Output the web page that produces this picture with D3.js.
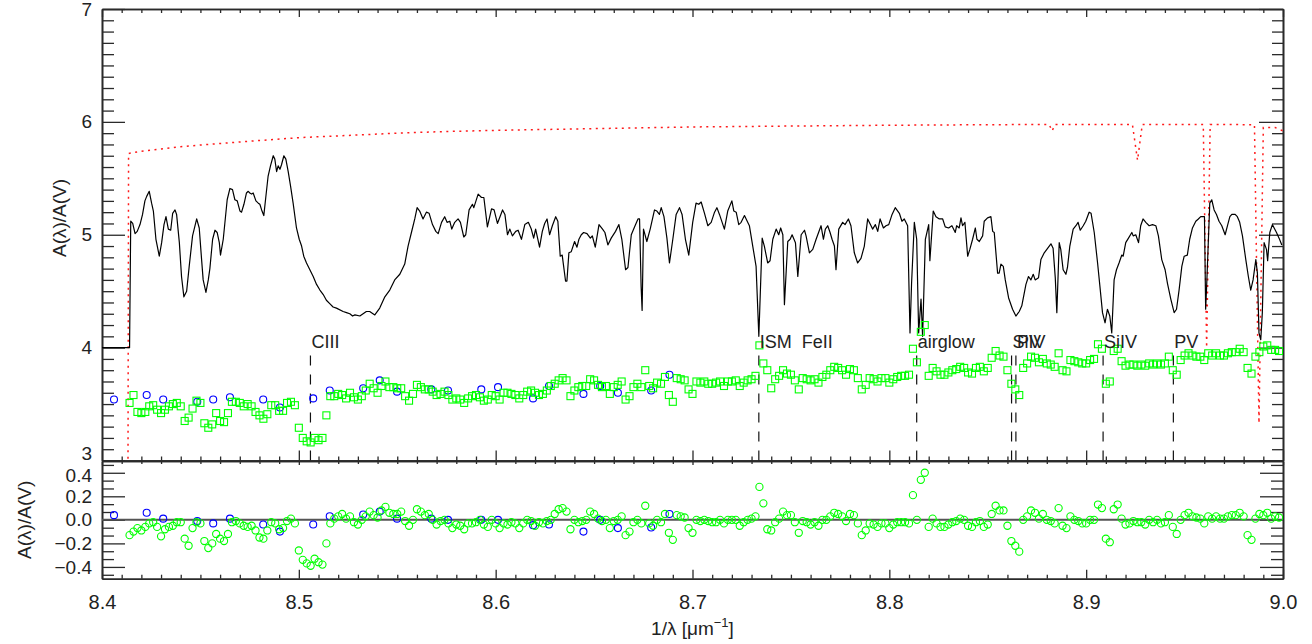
<!DOCTYPE html>
<html>
<head>
<meta charset="utf-8">
<script src="https://cdn.jsdelivr.net/npm/d3@7"></script>
<style>
  body { margin: 0; background: #fff; }
  svg text { font-family: "Liberation Sans", Arial, sans-serif; fill: #222; }
</style>
</head>
<body>
<div id="chart"></div>
<script>
// ---- data -------------------------------------------------------------

// extinction curve derived from the model spectrum (black line)
const spectrum = [
  [8.4000,4.00],[8.4140,4.00],[8.4146,5.12],[8.4156,5.10],[8.4168,5.01],[8.4179,5.03],[8.4193,5.09],[8.4206,5.18],[8.4218,5.30],[8.4227,5.34],
  [8.4240,5.385],[8.4252,5.28],[8.4261,5.21],[8.4274,4.96],[8.4291,4.81],[8.4303,4.93],[8.4315,5.09],[8.4325,5.16],[8.4337,5.05],[8.4349,5.04],
  [8.4359,5.19],[8.4371,5.22],[8.4379,5.18],[8.4393,4.93],[8.4404,4.63],[8.4416,4.45],[8.4430,4.50],[8.4443,4.72],[8.4460,4.99],[8.4481,5.14],
  [8.4494,5.06],[8.4506,4.78],[8.4514,4.60],[8.4528,4.49],[8.4540,4.60],[8.4548,4.70],[8.4562,4.96],[8.4574,5.04],[8.4585,5.02],[8.4596,4.93],
  [8.4602,4.82],[8.4616,4.96],[8.4624,5.10],[8.4636,5.31],[8.4650,5.41],[8.4663,5.40],[8.4675,5.31],[8.4687,5.30],[8.4701,5.21],[8.4709,5.20],
  [8.4721,5.27],[8.4734,5.37],[8.4743,5.385],[8.4751,5.37],[8.4760,5.36],[8.4768,5.37],[8.4782,5.30],[8.4794,5.28],[8.4802,5.27],[8.4811,5.22],
  [8.4822,5.17],[8.4832,5.33],[8.4844,5.52],[8.4856,5.61],[8.4870,5.70],[8.4878,5.67],[8.4887,5.56],[8.4895,5.61],[8.4904,5.58],[8.4912,5.62],
  [8.4924,5.70],[8.4934,5.67],[8.4946,5.56],[8.4958,5.43],[8.4971,5.28],[8.4988,5.06],[8.5002,4.96],[8.5014,4.90],[8.5025,4.81],[8.5039,4.75],
  [8.5056,4.69],[8.5073,4.63],[8.5090,4.56],[8.5107,4.51],[8.5124,4.47],[8.5140,4.42],[8.5157,4.39],[8.5174,4.36],[8.5191,4.35],[8.5225,4.32],
  [8.5242,4.31],[8.5259,4.30],[8.5273,4.28],[8.5285,4.29],[8.5310,4.28],[8.5343,4.32],[8.5360,4.32],[8.5386,4.29],[8.5411,4.35],[8.5437,4.45],
  [8.5462,4.51],[8.5487,4.60],[8.5513,4.65],[8.5538,4.74],[8.5555,4.90],[8.5572,5.02],[8.5589,5.14],[8.5601,5.24],[8.5614,5.21],[8.5631,5.14],
  [8.5648,5.20],[8.5662,5.19],[8.5679,5.09],[8.5696,5.03],[8.5708,5.01],[8.5725,5.11],[8.5741,5.16],[8.5753,5.11],[8.5767,5.12],[8.5777,5.05],
  [8.5792,5.11],[8.5809,5.14],[8.5821,5.11],[8.5838,4.98],[8.5848,5.00],[8.5865,5.22],[8.5882,5.27],[8.5889,5.24],[8.5911,5.36],[8.5928,5.33],
  [8.5940,5.33],[8.5958,5.07],[8.5979,5.23],[8.5992,5.22],[8.6009,5.10],[8.6035,5.22],[8.6047,5.18],[8.6060,5.00],[8.6072,5.05],[8.6085,4.99],
  [8.6102,5.03],[8.6114,5.04],[8.6131,4.96],[8.6148,5.09],[8.6166,5.11],[8.6181,5.05],[8.6193,4.97],[8.6203,5.05],[8.6223,4.89],[8.6237,5.03],
  [8.6249,5.10],[8.6261,5.14],[8.6274,5.00],[8.6288,5.08],[8.6305,5.16],[8.6316,5.12],[8.6328,4.81],[8.6338,4.82],[8.6355,4.59],[8.6362,4.59],
  [8.6372,4.84],[8.6384,4.85],[8.6401,4.94],[8.6413,4.89],[8.6423,4.96],[8.6435,5.00],[8.6447,5.02],[8.6464,5.01],[8.6481,4.97],[8.6491,4.99],
  [8.6506,4.89],[8.6525,5.09],[8.6543,5.05],[8.6555,5.02],[8.6570,4.91],[8.6587,4.97],[8.6609,5.03],[8.6626,5.09],[8.6641,4.96],[8.6660,4.69],
  [8.6672,4.71],[8.6689,5.00],[8.6706,5.07],[8.6723,5.14],[8.6731,5.14],[8.6739,4.54],[8.6744,4.33],[8.6751,5.05],[8.6768,4.94],[8.6785,5.05],
  [8.6807,5.22],[8.6819,5.21],[8.6832,5.18],[8.6841,5.24],[8.6855,5.16],[8.6870,4.97],[8.6883,4.75],[8.6900,4.96],[8.6917,5.18],[8.6934,5.24],
  [8.6947,5.18],[8.6964,4.96],[8.6981,4.82],[8.7001,5.11],[8.7018,5.28],[8.7032,5.27],[8.7044,5.29],[8.7061,5.19],[8.7078,5.08],[8.7095,5.11],
  [8.7112,5.20],[8.7124,5.24],[8.7137,5.18],[8.7162,5.05],[8.7179,5.21],[8.7200,5.30],[8.7210,5.21],[8.7222,5.20],[8.7235,5.09],[8.7247,5.11],
  [8.7264,5.17],[8.7289,5.08],[8.7306,4.90],[8.7323,4.72],[8.7337,4.10],[8.7354,4.97],[8.7365,4.90],[8.7382,4.75],[8.7394,4.77],[8.7408,4.96],
  [8.7425,5.05],[8.7438,5.00],[8.7448,5.06],[8.7459,5.00],[8.7467,4.38],[8.7484,4.94],[8.7496,4.96],[8.7506,5.00],[8.7523,4.93],[8.7535,4.63],
  [8.7552,5.00],[8.7569,5.04],[8.7577,4.99],[8.7594,4.84],[8.7611,4.87],[8.7628,4.96],[8.7653,5.08],[8.7665,4.96],[8.7675,5.05],[8.7687,5.08],
  [8.7699,5.02],[8.7709,4.96],[8.7721,4.90],[8.7729,4.69],[8.7743,5.05],[8.7763,5.11],[8.7775,5.09],[8.7792,5.14],[8.7805,5.08],[8.7822,4.84],
  [8.7839,4.75],[8.7856,4.79],[8.7873,4.90],[8.7890,5.14],[8.7907,5.08],[8.7915,5.05],[8.7929,5.09],[8.7941,5.03],[8.7953,5.14],[8.7970,5.06],
  [8.7983,5.08],[8.7997,5.09],[8.8014,5.18],[8.8030,5.24],[8.8051,5.19],[8.8064,5.12],[8.8076,5.14],[8.8093,5.08],[8.8105,4.13],[8.8113,4.57],
  [8.8127,5.11],[8.8139,4.96],[8.8149,4.13],[8.8161,4.43],[8.8169,4.10],[8.8183,4.96],[8.8200,5.09],[8.8206,4.77],[8.8223,5.21],[8.8237,5.16],
  [8.8254,5.14],[8.8271,5.14],[8.8284,5.07],[8.8301,5.06],[8.8318,5.08],[8.8335,5.02],[8.8342,5.08],[8.8355,5.06],[8.8364,5.15],[8.8372,5.08],
  [8.8384,5.11],[8.8398,4.81],[8.8409,4.87],[8.8423,4.96],[8.8437,5.06],[8.8445,4.96],[8.8457,4.94],[8.8474,4.99],[8.8482,5.12],[8.8499,5.15],
  [8.8516,5.16],[8.8525,5.03],[8.8533,5.02],[8.8550,4.66],[8.8558,4.66],[8.8567,4.74],[8.8579,4.72],[8.8589,4.60],[8.8606,4.44],[8.8626,4.34],
  [8.8643,4.28],[8.8660,4.32],[8.8673,4.37],[8.8694,4.56],[8.8707,4.63],[8.8719,4.60],[8.8731,4.65],[8.8741,4.60],[8.8758,4.62],[8.8770,4.78],
  [8.8787,4.84],[8.8804,4.88],[8.8821,4.92],[8.8832,4.88],[8.8843,4.62],[8.8851,4.31],[8.8863,4.93],[8.8871,4.87],[8.8883,4.69],[8.8897,4.65],
  [8.8905,4.71],[8.8917,4.90],[8.8934,5.05],[8.8948,5.08],[8.8959,5.11],[8.8970,5.04],[8.8985,5.08],[8.8998,5.12],[8.9015,5.20],[8.9025,5.19],
  [8.9041,5.02],[8.9058,4.75],[8.9070,4.54],[8.9083,4.31],[8.9096,4.22],[8.9108,4.34],[8.9120,4.28],[8.9130,4.13],[8.9142,4.60],[8.9154,4.69],
  [8.9167,4.75],[8.9181,4.82],[8.9188,4.81],[8.9201,4.93],[8.9215,4.97],[8.9232,5.02],[8.9239,4.99],[8.9252,5.00],[8.9266,4.93],[8.9277,5.08],
  [8.9289,5.14],[8.9303,5.11],[8.9320,5.08],[8.9337,5.09],[8.9354,5.08],[8.9367,4.99],[8.9384,4.78],[8.9401,4.69],[8.9413,4.57],[8.9430,4.43],
  [8.9447,4.31],[8.9459,4.34],[8.9472,4.51],[8.9486,4.72],[8.9498,4.81],[8.9514,4.82],[8.9526,4.96],[8.9540,5.06],[8.9557,5.12],[8.9570,5.14],
  [8.9582,5.16],[8.9594,5.16],[8.9601,5.16],[8.9607,4.34],[8.9612,4.54],[8.9628,5.28],[8.9638,5.31],[8.9650,5.22],[8.9662,5.18],[8.9675,5.12],
  [8.9689,5.08],[8.9706,5.00],[8.9718,5.08],[8.9730,5.16],[8.9740,5.18],[8.9757,5.18],[8.9768,5.16],[8.9780,5.11],[8.9794,4.99],[8.9811,4.78],
  [8.9824,4.63],[8.9836,4.51],[8.9848,4.60],[8.9862,4.78],[8.9870,4.66],[8.9878,4.13],[8.9887,4.07],[8.9895,4.31],[8.9904,4.93],[8.9916,4.87],
  [8.9922,4.77],[8.9933,5.02],[8.9946,5.09],[8.9955,5.06],[8.9967,5.02],[8.9980,4.97],[8.9994,4.91]
];

// model curve (red dotted)
const model = [
  [8.4132,2.90],[8.4135,5.72],[8.420,5.74],[8.430,5.76],[8.440,5.78],[8.450,5.795],[8.465,5.815],[8.480,5.835],[8.500,5.86],[8.525,5.88],
  [8.550,5.90],[8.575,5.915],[8.600,5.925],[8.650,5.94],[8.700,5.955],[8.750,5.963],[8.800,5.970],[8.850,5.975],[8.8812,5.977],[8.8827,5.92],
  [8.8842,5.977],[8.9235,5.977],[8.9261,5.66],[8.9285,5.977],[8.9595,5.977],[8.9612,4.00],[8.9630,5.977],[8.9855,5.975],[8.9878,3.33],[8.9900,5.95],
  [8.9960,5.95],[9.0000,5.92]
];

// binned measurements: wavelength grid, A(l)/A(V) (green squares) and residuals (green circles)
const binWave = [
  8.414,8.416,8.418,8.420,8.422,8.424,8.426,8.428,8.430,8.432,
  8.434,8.436,8.438,8.440,8.442,8.444,8.446,8.448,8.450,8.452,
  8.454,8.456,8.458,8.460,8.462,8.464,8.466,8.468,8.470,8.472,
  8.474,8.476,8.478,8.480,8.482,8.484,8.486,8.488,8.490,8.492,
  8.494,8.496,8.498,8.500,8.502,8.504,8.506,8.508,8.510,8.512,
  8.514,8.516,8.518,8.520,8.522,8.524,8.526,8.528,8.530,8.532,
  8.534,8.536,8.538,8.540,8.542,8.544,8.546,8.548,8.550,8.552,
  8.554,8.556,8.558,8.560,8.562,8.564,8.566,8.568,8.570,8.572,
  8.574,8.576,8.578,8.580,8.582,8.584,8.586,8.588,8.590,8.592,
  8.594,8.596,8.598,8.600,8.602,8.604,8.606,8.608,8.610,8.612,
  8.614,8.616,8.618,8.620,8.622,8.624,8.626,8.628,8.630,8.632,
  8.634,8.636,8.638,8.640,8.642,8.644,8.646,8.648,8.650,8.652,
  8.654,8.656,8.658,8.660,8.662,8.664,8.666,8.668,8.670,8.672,
  8.674,8.676,8.678,8.680,8.682,8.684,8.686,8.688,8.690,8.692,
  8.694,8.696,8.698,8.700,8.702,8.704,8.706,8.708,8.710,8.712,
  8.714,8.716,8.718,8.720,8.722,8.724,8.726,8.728,8.730,8.732,
  8.734,8.736,8.738,8.740,8.742,8.744,8.746,8.748,8.750,8.752,
  8.754,8.756,8.758,8.760,8.762,8.764,8.766,8.768,8.770,8.772,
  8.774,8.776,8.778,8.780,8.782,8.784,8.786,8.788,8.790,8.792,
  8.794,8.796,8.798,8.800,8.802,8.804,8.806,8.808,8.810,8.812,
  8.814,8.816,8.818,8.820,8.822,8.824,8.826,8.828,8.830,8.832,
  8.834,8.836,8.838,8.840,8.842,8.844,8.846,8.848,8.850,8.852,
  8.854,8.856,8.858,8.860,8.862,8.864,8.866,8.868,8.870,8.872,
  8.874,8.876,8.878,8.880,8.882,8.884,8.886,8.888,8.890,8.892,
  8.894,8.896,8.898,8.900,8.902,8.904,8.906,8.908,8.910,8.912,
  8.914,8.916,8.918,8.920,8.922,8.924,8.926,8.928,8.930,8.932,
  8.934,8.936,8.938,8.940,8.942,8.944,8.946,8.948,8.950,8.952,
  8.954,8.956,8.958,8.960,8.962,8.964,8.966,8.968,8.970,8.972,
  8.974,8.976,8.978,8.980,8.982,8.984,8.986,8.988,8.990,8.992,
  8.994,8.996,8.998
];
const binExt = [
  3.51,3.58,3.43,3.42,3.43,3.48,3.49,3.45,3.42,3.45,
  3.48,3.50,3.51,3.48,3.35,3.38,3.46,3.53,3.51,3.33,
  3.29,3.32,3.42,3.35,3.34,3.42,3.52,3.52,3.51,3.48,
  3.50,3.48,3.43,3.40,3.37,3.41,3.49,3.49,3.44,3.44,
  3.51,3.52,3.49,3.29,3.20,3.17,3.16,3.20,3.18,3.20,
  3.40,3.57,3.57,3.59,3.58,3.55,3.60,3.56,3.54,3.57,
  3.62,3.68,3.64,3.60,3.66,3.70,3.65,3.65,3.64,3.64,
  3.57,3.53,3.59,3.67,3.65,3.63,3.63,3.61,3.58,3.59,
  3.61,3.58,3.54,3.55,3.54,3.51,3.55,3.57,3.58,3.56,
  3.53,3.54,3.58,3.57,3.54,3.60,3.60,3.59,3.58,3.55,
  3.58,3.61,3.62,3.60,3.58,3.59,3.62,3.66,3.68,3.71,
  3.73,3.71,3.57,3.62,3.65,3.66,3.66,3.72,3.71,3.67,
  3.65,3.66,3.59,3.65,3.67,3.70,3.54,3.57,3.65,3.68,
  3.65,3.80,3.66,3.64,3.69,3.68,3.74,3.58,3.52,3.73,
  3.72,3.71,3.63,3.59,3.70,3.69,3.70,3.68,3.68,3.69,
  3.70,3.66,3.70,3.70,3.71,3.66,3.69,3.71,3.72,3.75,
  4.02,3.86,3.80,3.64,3.72,3.75,3.80,3.77,3.76,3.71,
  3.63,3.73,3.72,3.71,3.72,3.69,3.74,3.76,3.80,3.83,
  3.82,3.80,3.76,3.81,3.80,3.73,3.63,3.67,3.73,3.72,
  3.70,3.73,3.73,3.69,3.72,3.74,3.75,3.75,3.76,3.99,
  3.87,4.14,4.20,3.75,3.82,3.79,3.76,3.76,3.78,3.80,
  3.81,3.83,3.82,3.78,3.77,3.82,3.83,3.79,3.82,3.91,
  3.97,3.93,3.92,3.80,3.68,3.63,3.58,3.82,3.86,3.92,
  3.91,3.87,3.90,3.86,3.85,3.83,3.95,3.80,3.79,3.89,
  3.88,3.87,3.86,3.86,3.89,3.90,4.03,3.99,3.68,3.70,
  3.97,3.99,3.88,3.84,3.85,3.85,3.84,3.85,3.84,3.86,
  3.85,3.86,3.85,3.86,3.92,3.80,3.76,3.89,3.93,3.95,
  3.93,3.92,3.92,3.89,3.95,3.93,3.95,3.93,3.93,3.95,
  3.96,3.96,3.99,3.96,3.82,3.77,3.92,3.96,4.01,4.02,
  3.98,3.98,3.97
];
const binResid = [
  -0.13,-0.10,-0.07,-0.09,-0.06,-0.03,-0.02,-0.06,-0.14,-0.08,
  -0.06,-0.05,-0.02,-0.02,-0.16,-0.22,-0.07,-0.02,-0.03,-0.18,
  -0.24,-0.20,-0.12,-0.16,-0.18,-0.12,-0.02,-0.01,-0.03,-0.05,
  -0.06,-0.05,-0.09,-0.15,-0.16,-0.09,-0.02,-0.03,-0.08,-0.07,
  -0.01,0.01,-0.03,-0.26,-0.34,-0.37,-0.39,-0.33,-0.36,-0.38,
  -0.20,-0.03,0.01,0.03,0.05,0.01,0.03,-0.02,-0.04,0.00,
  0.03,0.07,0.04,0.02,0.08,0.11,0.06,0.05,0.05,0.07,
  -0.01,-0.05,0.00,0.09,0.07,0.04,0.05,0.00,-0.04,-0.01,
  0.00,-0.03,-0.07,-0.04,-0.05,-0.08,-0.03,-0.03,-0.02,0.00,
  -0.04,-0.06,0.00,-0.03,-0.07,-0.03,-0.04,-0.02,-0.03,-0.07,
  -0.03,0.00,-0.01,-0.05,-0.02,-0.03,-0.01,0.00,0.05,0.09,
  0.10,0.07,-0.08,0.00,-0.02,-0.01,0.00,0.07,0.05,0.01,
  -0.01,0.00,-0.07,-0.01,0.00,0.03,-0.13,-0.10,-0.02,0.00,
  -0.03,0.12,-0.03,-0.05,0.00,-0.02,0.05,-0.11,-0.17,0.04,
  0.03,0.02,-0.07,-0.11,0.00,-0.01,0.00,-0.01,-0.02,-0.02,
  0.00,-0.03,0.00,0.00,0.00,-0.05,-0.02,0.00,0.01,0.03,
  0.28,0.14,-0.08,-0.09,-0.02,0.01,0.07,0.04,0.04,-0.02,
  -0.11,-0.01,-0.02,-0.04,-0.02,-0.05,0.00,0.00,0.03,0.06,
  0.05,0.03,-0.01,0.05,0.04,-0.03,-0.13,-0.09,-0.03,-0.04,
  -0.06,-0.03,-0.03,-0.07,-0.04,-0.02,-0.02,-0.02,-0.03,0.21,
  0.00,0.34,0.40,-0.06,0.01,-0.03,-0.06,-0.06,-0.04,-0.02,
  -0.01,0.01,0.00,-0.05,-0.06,-0.02,-0.01,-0.06,-0.04,0.05,
  0.12,0.08,0.08,-0.05,-0.18,-0.22,-0.27,0.00,0.03,0.08,
  0.06,0.01,0.05,0.00,-0.01,-0.03,0.10,-0.05,-0.07,0.03,
  0.00,-0.01,-0.03,-0.03,0.00,0.00,0.13,0.10,-0.16,-0.19,
  0.09,0.13,0.01,-0.04,-0.03,-0.01,-0.02,-0.02,-0.04,0.00,
  -0.02,0.00,-0.03,-0.02,0.04,-0.06,-0.12,0.00,0.04,0.06,
  0.03,0.02,0.01,-0.03,0.03,0.01,0.03,0.01,0.01,0.03,
  0.04,0.04,0.06,0.03,-0.13,-0.17,0.01,0.05,0.04,0.06,
  0.01,0.03,0.02
];

// second data set (blue circles)
const blueWave = [8.4061,8.4227,8.4311,8.4484,8.4565,8.4650,8.4819,8.4904,8.5073,8.5157,8.5327,8.5411,
                  8.5499,8.5673,8.5758,8.5927,8.6012,8.6190,8.6271,8.6446,8.6531,8.6621,8.6790,8.6883];
const blueExt = [3.54,3.58,3.54,3.52,3.54,3.56,3.54,3.47,3.55,3.62,3.64,3.71,
                 3.61,3.63,3.62,3.63,3.65,3.55,3.66,3.59,3.66,3.60,3.62,3.76];
const blueResid = [0.04,0.06,0.01,-0.01,-0.03,0.01,-0.04,-0.10,-0.04,0.03,0.045,0.07,
                   0.01,0.01,0.00,0.00,0.00,-0.045,-0.04,-0.10,0.00,-0.07,-0.065,0.05];

// line identifications
const lineNames = ["CIII", "ISM  FeII", "airglow", "SiIV", "PV", "SiIV", "PV"];
const lineWave = [8.5059, 8.7337, 8.8139, 8.8621, 8.8643, 8.9086, 8.9443];

const xMajor = [8.4, 8.5, 8.6, 8.7, 8.8, 8.9, 9.0];

// ---- layout -----------------------------------------------------------
const svgWidth = 1312, svgHeight = 644;
const plotLeft = 102, plotRight = 1283;
const topPanel = { top: 9, bottom: 460.5 };
const botPanel = { top: 461, bottom: 578.7 };
const fontStack = "Liberation Sans, Arial, sans-serif";

const svg = d3.select("#chart").append("svg")
  .attr("width", svgWidth)
  .attr("height", svgHeight);

const x = d3.scaleLinear().domain([8.4, 9.0]).range([plotLeft, plotRight]);
const yTop = d3.scaleLinear().domain([3, 7]).range([topPanel.bottom, topPanel.top]);
const yBot = d3.scaleLinear().domain([-0.5, 0.5]).range([botPanel.bottom, botPanel.top]);

const defs = svg.append("defs");
defs.append("clipPath").attr("id", "clipTop").append("rect")
  .attr("x", plotLeft).attr("y", topPanel.top)
  .attr("width", plotRight - plotLeft).attr("height", topPanel.bottom - topPanel.top);
defs.append("clipPath").attr("id", "clipBot").append("rect")
  .attr("x", plotLeft).attr("y", botPanel.top)
  .attr("width", plotRight - plotLeft).attr("height", botPanel.bottom - botPanel.top);

// tick positions
const xMinor = d3.range(841, 900).map((i) => i / 100).filter((v) => Math.round(v * 100) % 10 !== 0);
const yTopMinor = d3.range(30, 71).map((i) => i / 10).filter((v) => Math.round(v * 10) % 10 !== 0);
const yBotMajor = [-0.4, -0.2, 0, 0.2, 0.4];
const yBotMinor = d3.range(-7, 8).filter((i) => i % 3 !== 0).map((i) => (i * 0.2) / 3);

function styleAxis(g) {
  g.attr("color", "#2a2a2a").attr("font-size", 19).attr("font-family", fontStack);
  g.selectAll(".tick line").attr("stroke-width", 1.3);
  g.select(".domain").attr("stroke-width", 1.6);
}

function addAxis(axis, tx, ty) {
  return svg.append("g").attr("transform", `translate(${tx},${ty})`).call(axis).call(styleAxis);
}

// ---- top panel axes ----
const topLeftAxis = addAxis(d3.axisLeft(yTop).tickValues([3, 4, 5, 6, 7]).tickSize(-23).tickSizeOuter(0).tickPadding(10).tickFormat(d3.format("d")), plotLeft, 0);
// lift the lowest label so it clears the "0.4" of the lower panel
topLeftAxis.selectAll(".tick text").filter((d) => d === 3).attr("y", -7);
addAxis(d3.axisLeft(yTop).tickValues(yTopMinor).tickSize(-12).tickSizeOuter(0).tickFormat(""), plotLeft, 0);
addAxis(d3.axisRight(yTop).tickValues([3, 4, 5, 6, 7]).tickSize(-24).tickSizeOuter(0).tickFormat(""), plotRight, 0);
addAxis(d3.axisRight(yTop).tickValues(yTopMinor).tickSize(-11).tickSizeOuter(0).tickFormat(""), plotRight, 0);
addAxis(d3.axisTop(x).tickValues(xMajor).tickSize(-8).tickSizeOuter(0).tickFormat(""), 0, topPanel.top);
addAxis(d3.axisTop(x).tickValues(xMinor).tickSize(-4).tickSizeOuter(0).tickFormat(""), 0, topPanel.top);
addAxis(d3.axisBottom(x).tickValues(xMajor).tickSize(-10).tickSizeOuter(0).tickFormat(""), 0, topPanel.bottom);
addAxis(d3.axisBottom(x).tickValues(xMinor).tickSize(-4).tickSizeOuter(0).tickFormat(""), 0, topPanel.bottom);

// ---- bottom panel axes ----
const botLeftAxis = addAxis(d3.axisLeft(yBot).tickValues(yBotMajor).tickSize(-23).tickSizeOuter(0).tickPadding(10).tickFormat(d3.format(".1f")), plotLeft, 0);
botLeftAxis.selectAll(".tick text").filter((d) => d === 0.4).attr("y", 3);
addAxis(d3.axisLeft(yBot).tickValues(yBotMinor).tickSize(-12).tickSizeOuter(0).tickFormat(""), plotLeft, 0);
addAxis(d3.axisRight(yBot).tickValues(yBotMajor).tickSize(-23).tickSizeOuter(0).tickFormat(""), plotRight, 0);
addAxis(d3.axisRight(yBot).tickValues(yBotMinor).tickSize(-12).tickSizeOuter(0).tickFormat(""), plotRight, 0);
addAxis(d3.axisBottom(x).tickValues(xMajor).tickSize(4).tickSizeOuter(0).tickFormat(""), 0, botPanel.top);
addAxis(d3.axisBottom(x).tickValues(xMinor).tickSize(3).tickSizeOuter(0).tickFormat(""), 0, botPanel.top);
addAxis(d3.axisBottom(x).tickValues(xMajor).tickSize(-9).tickSizeOuter(0).tickPadding(16).tickFormat(d3.format(".1f")), 0, botPanel.bottom)
  .attr("font-size", 20);
addAxis(d3.axisBottom(x).tickValues(xMinor).tickSize(-4).tickSizeOuter(0).tickFormat(""), 0, botPanel.bottom);

// ---- top panel content ----
const topG = svg.append("g").attr("clip-path", "url(#clipTop)");

topG.append("path")
  .datum(model)
  .attr("fill", "none")
  .attr("stroke", "#ff1a1a")
  .attr("stroke-width", 1.5)
  .attr("stroke-dasharray", "2,4.5")
  .attr("d", d3.line().x((d) => x(d[0])).y((d) => yTop(d[1])));

topG.append("path")
  .datum(spectrum)
  .attr("fill", "none")
  .attr("stroke", "#000")
  .attr("stroke-width", 1.2)
  .attr("stroke-linejoin", "round")
  .attr("d", d3.line().x((d) => x(d[0])).y((d) => yTop(d[1])));

// line identifications
topG.selectAll("line.ident")
  .data(lineWave)
  .enter()
  .append("line")
  .attr("x1", (d) => x(d))
  .attr("x2", (d) => x(d))
  .attr("y1", yTop(3))
  .attr("y2", yTop(4))
  .attr("stroke", "#111")
  .attr("stroke-width", 1.2)
  .attr("stroke-dasharray", "10,9");

svg.selectAll("text.ident")
  .data(lineNames)
  .enter()
  .append("text")
  .attr("x", (d, i) => x(lineWave[i]) + 1)
  .attr("y", yTop(4))
  .attr("font-size", 18)
  .attr("fill", "#222")
  .style("white-space", "pre")
  .text((d) => d);

topG.selectAll("circle.blue")
  .data(blueWave)
  .enter()
  .append("circle")
  .attr("cx", (d) => x(d))
  .attr("cy", (d, i) => yTop(blueExt[i]))
  .attr("r", 3.5)
  .attr("fill", "none")
  .attr("stroke", "#0000ff")
  .attr("stroke-width", 1.1);

topG.selectAll("rect.bin")
  .data(binWave)
  .enter()
  .append("rect")
  .attr("x", (d) => x(d) - 3.5)
  .attr("y", (d, i) => yTop(binExt[i]) - 3.5)
  .attr("width", 7)
  .attr("height", 7)
  .attr("fill", "none")
  .attr("stroke", "#00ff00")
  .attr("stroke-width", 1.1);

// ---- bottom panel content ----
const botG = svg.append("g").attr("clip-path", "url(#clipBot)");

botG.append("line")
  .attr("x1", plotLeft)
  .attr("x2", plotRight)
  .attr("y1", yBot(0))
  .attr("y2", yBot(0))
  .attr("stroke", "#555")
  .attr("stroke-width", 2);

botG.selectAll("circle.blue")
  .data(blueWave)
  .enter()
  .append("circle")
  .attr("cx", (d) => x(d))
  .attr("cy", (d, i) => yBot(blueResid[i]))
  .attr("r", 3.5)
  .attr("fill", "none")
  .attr("stroke", "#0000ff")
  .attr("stroke-width", 1.1);

botG.selectAll("circle.bin")
  .data(binWave)
  .enter()
  .append("circle")
  .attr("cx", (d) => x(d))
  .attr("cy", (d, i) => yBot(binResid[i]))
  .attr("r", 3.6)
  .attr("fill", "none")
  .attr("stroke", "#00ff00")
  .attr("stroke-width", 1.1);

// ---- titles ----
svg.append("text")
  .attr("transform", "translate(66,218) rotate(-90)")
  .attr("text-anchor", "middle")
  .attr("font-size", 19)
  .text("A(λ)/A(V)");

svg.append("text")
  .attr("transform", `translate(31,${(botPanel.top + botPanel.bottom) / 2}) rotate(-90)`)
  .attr("text-anchor", "middle")
  .attr("font-size", 19)
  .text("A(λ)/A(V)");

const xTitle = svg.append("text")
  .attr("x", (plotLeft + plotRight) / 2)
  .attr("y", 635)
  .attr("text-anchor", "middle")
  .attr("font-size", 19);
xTitle.append("tspan").text("1/λ [μm");
xTitle.append("tspan").attr("font-size", 13).attr("dy", -8).text("−1");
xTitle.append("tspan").attr("dy", 8).text("]");
</script>
</body>
</html>
